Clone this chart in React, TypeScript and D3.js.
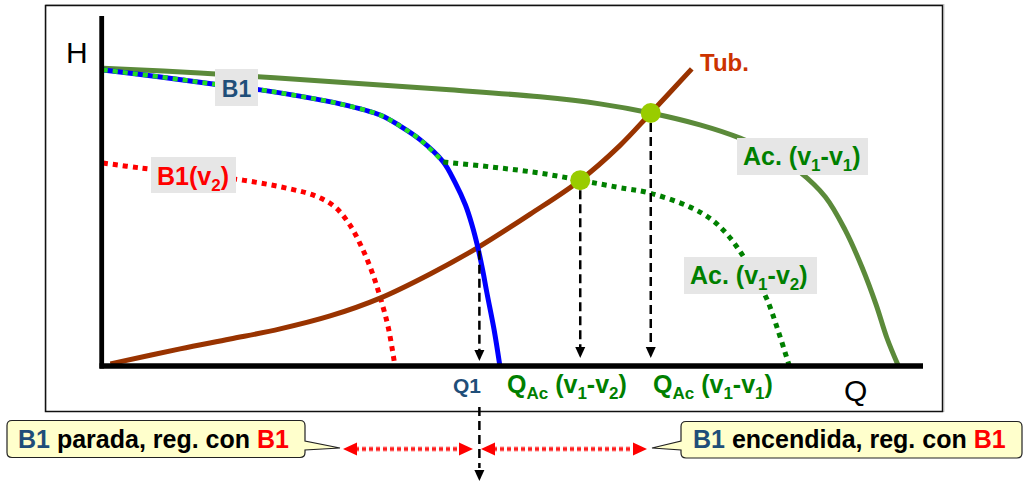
import * as d3 from "d3";

// ---------- data (Q, H in arbitrary units 0..100) ----------
const acV11Q = [0, 11.8, 28.9, 42.3, 53.3, 60.6, 66.8, 72.8, 77.7, 81.3, 85.0, 88.1, 90.5, 92.6, 94.3, 95.6, 97.0];
const acV11H = [85.1, 83.7, 81.1, 78.9, 76.9, 74.9, 72.3, 68.9, 65.1, 61.1, 55.4, 48.3, 38.9, 28.0, 17.4, 8.0, 0];

const b1Q = [0, 7.0, 13.4, 19.2, 24.0, 28.9, 33.8, 36.2, 38.7, 41.5, 42.9, 44.2, 45.0, 45.7, 46.3, 46.8, 47.7, 48.4];
const b1H = [84.6, 82.6, 80.6, 78.9, 77.1, 74.9, 71.7, 68.6, 64.6, 58.3, 52.6, 46.0, 40.3, 34.0, 27.4, 21.1, 10.3, 0];
const b1SplitIndex = 9; // where Ac.(v1-v2) leaves B1

const acV12Q = [41.5, 47.2, 53.3, 62.7, 66.7, 71.6, 74.3, 76.2, 77.9, 79.5, 81.0, 82.3, 83.7];
const acV12H = [58.3, 56.9, 55.1, 51.1, 49.4, 45.4, 41.7, 37.4, 32.0, 25.7, 18.9, 10.3, 0];

const b1v2Q = [0, 4.5, 11.8, 17.6, 22.8, 25.9, 28.3, 30.1, 31.6, 32.8, 33.8, 34.8, 35.6];
const b1v2H = [58.0, 56.6, 54.6, 52.9, 50.6, 48.6, 45.4, 40.3, 33.7, 26.9, 19.7, 10.9, 0];

const tubQ = [0.9, 9.4, 15.5, 21.6, 27.7, 33.8, 39.9, 45.6, 52.1, 58.2, 63.0, 66.8, 71.8];
const tubH = [0.6, 4.9, 7.7, 10.6, 14.3, 19.4, 26.3, 33.7, 43.4, 53.1, 62.9, 72.3, 84.9];

// operating points
const opPointsQ = [58.2, 66.8];
const opPointsH = [53.1, 72.3];
const q1Point = [45.9, 33.5];

const zip = (qs: number[], hs: number[]) => qs.map((q, i) => [q, hs[i]] as [number, number]);

export default function App() {
  const x = d3.scaleLinear().domain([0, 100]).range([103, 923]);
  const y = d3.scaleLinear().domain([0, 100]).range([366, 16]);
  const line = d3
    .line<[number, number]>()
    .x((d) => x(d[0]))
    .y((d) => y(d[1]))
    .curve(d3.curveCatmullRom.alpha(0.5));

  const b1 = zip(b1Q, b1H);
  const b1Shared = b1.slice(0, b1SplitIndex + 1);
  const font = "'Liberation Sans', Arial, sans-serif";
  const blue = "#1f4e79";
  const green = "#008000";

  const downArrow = (cx: number, tipY: number, key: string) => (
    <path key={key} d={`M${cx - 5},${tipY - 11} L${cx + 5},${tipY - 11} L${cx},${tipY} Z`} fill="#000" />
  );

  const y0 = y(0);
  const arrowTip = y0 - 6;

  const redArrow = (x1: number, x2: number, yy: number, key: string) => (
    <g key={key}>
      <line x1={x1 + 12} x2={x2 - 12} y1={yy} y2={yy} stroke="#ff9090" strokeWidth={5} strokeDasharray="4 3" />
      <line x1={x1 + 12} x2={x2 - 12} y1={yy} y2={yy} stroke="#ff2020" strokeWidth={3} strokeDasharray="4 3" />
      <path d={`M${x1},${yy} L${x1 + 14},${yy - 6.5} L${x1 + 14},${yy + 6.5} Z`} fill="#ff0000" />
      <path d={`M${x2},${yy} L${x2 - 14},${yy - 6.5} L${x2 - 14},${yy + 6.5} Z`} fill="#ff0000" />
    </g>
  );

  const q1x = x(q1Point[0]);

  return (
    <svg width={1024} height={482} style={{ display: "block", position: "absolute", left: 0, top: 0 }} fontFamily={font}>
      <rect x={0} y={0} width={1024} height={482} fill="#fff" />
      {/* frame */}
      <rect x={46} y={4.5} width={898} height={407} fill="none" stroke="#c8c8c8" strokeWidth={1} />
      <rect x={45.5} y={5.5} width={897} height={406} fill="none" stroke="#111" strokeWidth={1.5} />

      {/* curves */}
      <path d={line(zip(acV11Q, acV11H)) || ""} fill="none" stroke="#5b8a3a" strokeWidth={5} />
      <path d={line(zip(b1v2Q, b1v2H)) || ""} fill="none" stroke="#ff0000" strokeWidth={5} strokeDasharray="5 5" />
      <path d={line(zip(tubQ, tubH)) || ""} fill="none" stroke="#993300" strokeWidth={5} />
      <path d={line(b1) || ""} fill="none" stroke="#0000ff" strokeWidth={5} />
      <path d={line(b1Shared) || ""} fill="none" stroke="#22dd22" strokeWidth={4.5} strokeDasharray="5 5" />
      <path d={line(zip(acV12Q, acV12H)) || ""} fill="none" stroke={green} strokeWidth={5} strokeDasharray="5 5" />

      {/* dashed projection lines */}
      {opPointsQ.map((q, i) => (
        <g key={"op" + i}>
          <line x1={x(q)} x2={x(q)} y1={y(opPointsH[i]) + 10} y2={arrowTip - 8} stroke="#000" strokeWidth={2.5} strokeDasharray="9 5" />
          {downArrow(x(q), arrowTip - 2, "a" + i)}
        </g>
      ))}
      <line x1={q1x} x2={q1x} y1={y(q1Point[1]) + 2} y2={arrowTip - 8} stroke="#000" strokeWidth={2.5} strokeDasharray="9 5" />
      {downArrow(q1x, arrowTip + 1, "q1a")}

      {/* axes */}
      <line x1={x(0) - 1.3} x2={x(0) - 1.3} y1={y(100)} y2={y0 + 2.5} stroke="#000" strokeWidth={4.8} />
      <line x1={x(0) - 3.5} x2={x(100)} y1={y0} y2={y0} stroke="#000" strokeWidth={5.5} />

      {/* operating points */}
      {opPointsQ.map((q, i) => (
        <circle key={"c" + i} cx={x(q)} cy={y(opPointsH[i])} r={10} fill="#99cc00" />
      ))}

      {/* axis titles */}
      <text x={66} y={63} fontSize={30} fill="#000" fontFamily={font}>H</text>
      <text x={844} y={401} fontSize={30} fill="#000" fontFamily={font}>Q</text>

      {/* curve labels */}
      <g fontWeight="bold">
        <rect x={215} y={69} width={43} height={37} fill="#e6e6e6" />
        <text x={236.5} y={97} fontSize={23} fill={blue} textAnchor="middle">B1</text>

        <rect x={151} y={157} width={85} height={36} fill="#e6e6e6" />
        <text x={157} y={185} fontSize={25} fill="#ff0000">
          B1(v<tspan fontSize={17} dy={6}>2</tspan><tspan dy={-6}>)</tspan>
        </text>

        <text x={700} y={71} fontSize={24} fill="#cc3300">Tub.</text>

        <rect x={737} y={138} width={131} height={37} fill="#e6e6e6" />
        <text x={743} y={165} fontSize={25} fill={green}>
          Ac. (v<tspan fontSize={17} dy={6}>1</tspan><tspan dy={-6}>-v</tspan><tspan fontSize={17} dy={6}>1</tspan><tspan dy={-6}>)</tspan>
        </text>

        <rect x={684} y={257} width={133} height={37} fill="#e6e6e6" />
        <text x={690} y={284} fontSize={25} fill={green}>
          Ac. (v<tspan fontSize={17} dy={6}>1</tspan><tspan dy={-6}>-v</tspan><tspan fontSize={17} dy={6}>2</tspan><tspan dy={-6}>)</tspan>
        </text>

        <text x={467} y={393} fontSize={21} fill={blue} textAnchor="middle">Q1</text>
        <text x={507} y={393} fontSize={25} fill={green}>
          Q<tspan fontSize={17} dy={6}>Ac</tspan><tspan dy={-6}> (v</tspan><tspan fontSize={17} dy={6}>1</tspan><tspan dy={-6}>-v</tspan><tspan fontSize={17} dy={6}>2</tspan><tspan dy={-6}>)</tspan>
        </text>
        <text x={653} y={393} fontSize={25} fill={green}>
          Q<tspan fontSize={17} dy={6}>Ac</tspan><tspan dy={-6}> (v</tspan><tspan fontSize={17} dy={6}>1</tspan><tspan dy={-6}>-v</tspan><tspan fontSize={17} dy={6}>1</tspan><tspan dy={-6}>)</tspan>
        </text>
      </g>

      {/* Q1 dashed below axis */}
      <line x1={q1x} x2={q1x} y1={407} y2={468} stroke="#000" strokeWidth={2.5} strokeDasharray="9 5" />
      {downArrow(q1x, 481, "q1b")}

      {/* red double arrows */}
      {redArrow(343, 473, 449, "r1")}
      {redArrow(481, 647, 449, "r2")}

      {/* callouts */}
      <path
        d="M12,420.5 H300 Q305,420.5 305,425.5 V441 L340,448 L305,450 V452.5 Q305,457.5 300,457.5 H12 Q7,457.5 7,452.5 V425.5 Q7,420.5 12,420.5 Z"
        fill="#ffffcc"
        stroke="#222"
        strokeWidth={1.2}
      />
      <text x={18} y={448} fontSize={25} fontWeight="bold">
        <tspan fill={blue}>B1</tspan>
        <tspan fill="#000"> parada, reg. con </tspan>
        <tspan fill="#ff0000">B1</tspan>
      </text>

      <path
        d="M686,421.5 H1017 Q1022,421.5 1022,426.5 V453 Q1022,458 1017,458 H686 Q681,458 681,453 V450 L652,448 L681,441 V426.5 Q681,421.5 686,421.5 Z"
        fill="#ffffcc"
        stroke="#222"
        strokeWidth={1.2}
      />
      <text x={693} y={448} fontSize={25} fontWeight="bold">
        <tspan fill={blue}>B1</tspan>
        <tspan fill="#000"> encendida, reg. con </tspan>
        <tspan fill="#ff0000">B1</tspan>
      </text>
    </svg>
  );
}
